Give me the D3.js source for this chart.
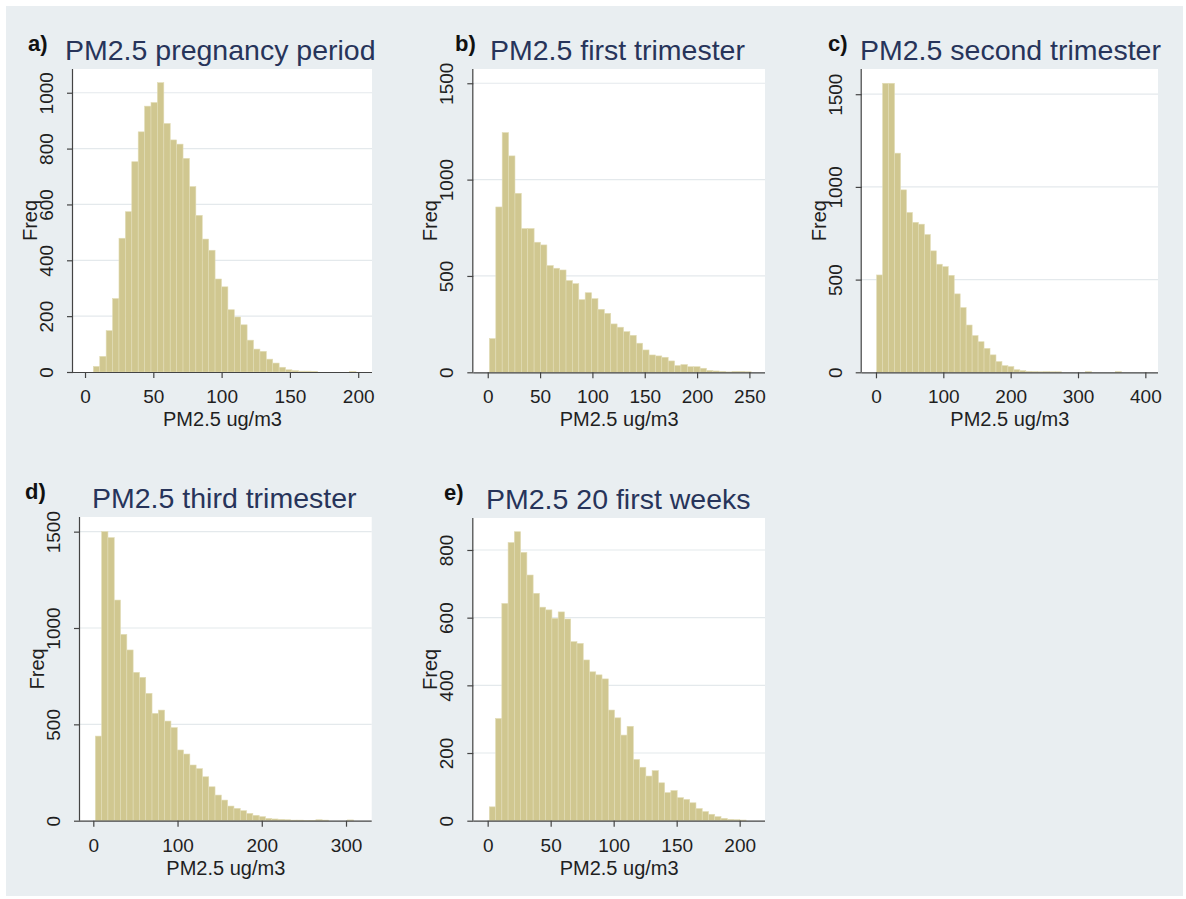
<!DOCTYPE html>
<html>
<head>
<meta charset="utf-8">
<script src="https://cdn.jsdelivr.net/npm/d3@7"></script>
<style>
  html, body { margin: 0; padding: 0; background: #ffffff; }
  svg { display: block; font-family: "Liberation Sans", Arial, Helvetica, sans-serif; }
</style>
</head>
<body>
<svg id="chart" width="1186" height="899"></svg>
<script>
// ---- Histogram data: PM2.5 exposure (ug/m3), 41 equal-width bins per window ----
const panelLetters = ["a)", "b)", "c)", "d)", "e)"];
const panelTitles = [
  "PM2.5 pregnancy period",
  "PM2.5 first trimester",
  "PM2.5 second trimester",
  "PM2.5 third trimester",
  "PM2.5 20 first weeks"
];
const xAxisTitle = "PM2.5 ug/m3";
const yAxisTitle = "Freq";

// first bin edge and bin width for each window
const binStarts = [6.1, 1.6, 1.0, 2.4, 1.3];
const binWidths = [4.69, 6.1, 8.86, 7.48, 4.97];

const countsPregnancy = [20, 56, 148, 263, 479, 574, 753, 860, 952, 965,
  1036, 890, 831, 816, 765, 664, 561, 476, 436, 333,
  305, 223, 197, 169, 114, 82, 74, 46, 32, 17,
  8, 5, 3, 3, 2, 0, 0, 0, 0, 0, 2];
const countsFirstTrim = [175, 858, 1244, 1123, 929, 746, 746, 675, 661, 554,
  540, 531, 476, 460, 377, 413, 382, 327, 306, 251,
  234, 211, 192, 151, 116, 90, 85, 78, 59, 35,
  40, 29, 29, 21, 10, 7, 5, 2, 5, 5, 3];
const countsSecondTrim = [525, 1559, 1559, 1182, 984, 862, 809, 799, 743, 655,
  583, 570, 523, 423, 349, 255, 198, 165, 129, 94,
  58, 36, 31, 14, 9, 5, 4, 3, 4, 3,
  3, 0, 0, 0, 0, 4, 0, 0, 0, 0, 4];
const countsThirdTrim = [439, 1500, 1469, 1145, 967, 886, 770, 744, 661, 557,
  574, 517, 483, 367, 346, 289, 270, 228, 176, 133,
  107, 76, 64, 52, 38, 28, 21, 12, 9, 7,
  5, 3, 3, 2, 2, 5, 3, 0, 0, 0, 4];
const counts20Weeks = [41, 302, 642, 822, 854, 793, 726, 672, 631, 623,
  598, 617, 596, 529, 524, 475, 440, 431, 419, 327,
  304, 253, 279, 181, 158, 132, 148, 112, 83, 89,
  68, 63, 53, 36, 27, 19, 12, 7, 4, 3, 2];
const panelCounts = [countsPregnancy, countsFirstTrim, countsSecondTrim, countsThirdTrim, counts20Weeks];

// axis tick labels
const xTicks = [
  [0, 50, 100, 150, 200],
  [0, 50, 100, 150, 200, 250],
  [0, 100, 200, 300, 400],
  [0, 100, 200, 300],
  [0, 50, 100, 150, 200]
];
const yTicks = [
  [0, 200, 400, 600, 800, 1000],
  [0, 500, 1000, 1500],
  [0, 500, 1000, 1500],
  [0, 500, 1000, 1500],
  [0, 200, 400, 600, 800]
];

// ---- Layout of each plot region ----
const layout = [
  { left: 73,    right: 372,  top: 69,  bottom: 372,   xDom: [-8.8, 210.1],  yMax: 1085,  letterX: 28,  titleX: 65 },
  { left: 473.3, right: 765,  top: 69,  bottom: 372.3, xDom: [-13.8, 264.9], yMax: 1574,  letterX: 455, titleX: 490 },
  { left: 861.7, right: 1158, top: 69,  bottom: 372.3, xDom: [-21.2, 418.8], yMax: 1636,  letterX: 828, titleX: 860 },
  { left: 80,    right: 371.7,top: 517, bottom: 820.7, xDom: [-15.8, 330.5], yMax: 1576,  letterX: 25,  titleX: 92 },
  { left: 473.3, right: 765,  top: 518, bottom: 820.7, xDom: [-11.4, 220.1], yMax: 894.5, letterX: 444, titleX: 486 }
];

const style = {
  bg: "#e9eef1",
  plotBg: "#ffffff",
  grid: "#e4e9ec",
  barFill: "#d0c790",
  barStroke: "#e2dcb6",
  axis: "#444444",
  text: "#1f1f1f",
  title: "#27345a"
};

const svg = d3.select("#chart");

// outer graph background
svg.append("rect")
  .attr("x", 6).attr("y", 6)
  .attr("width", 1177).attr("height", 890)
  .attr("fill", style.bg);

layout.forEach((L, p) => {
  const counts = panelCounts[p];
  const x = d3.scaleLinear().domain(L.xDom).range([L.left, L.right]);
  const y = d3.scaleLinear().domain([0, L.yMax]).range([L.bottom, L.top]);

  const g = svg.append("g");

  // plot region
  g.append("rect")
    .attr("x", L.left).attr("y", L.top)
    .attr("width", L.right - L.left).attr("height", L.bottom - L.top)
    .attr("fill", style.plotBg);

  // horizontal grid lines
  g.selectAll("line.grid")
    .data(yTicks[p].filter(v => v > 0))
    .join("line")
    .attr("class", "grid")
    .attr("x1", L.left).attr("x2", L.right)
    .attr("y1", d => y(d)).attr("y2", d => y(d))
    .attr("stroke", style.grid).attr("stroke-width", 1.2);

  // histogram bars
  const bins = counts.map((c, i) => ({
    x0: binStarts[p] + i * binWidths[p],
    x1: binStarts[p] + (i + 1) * binWidths[p],
    n: c
  })).filter(b => b.n > 0);

  g.selectAll("rect.bar")
    .data(bins)
    .join("rect")
    .attr("class", "bar")
    .attr("x", d => x(d.x0))
    .attr("width", d => x(d.x1) - x(d.x0))
    .attr("y", d => y(d.n))
    .attr("height", d => y(0) - y(d.n))
    .attr("fill", style.barFill)
    .attr("stroke", style.barStroke)
    .attr("stroke-width", 0.6);

  // x axis
  const xAxis = g.append("g")
    .attr("transform", `translate(0,${L.bottom})`)
    .call(d3.axisBottom(x).tickValues(xTicks[p]).tickSize(6).tickSizeOuter(0).tickFormat(d3.format("d")));
  xAxis.select(".domain").attr("stroke", style.axis).attr("stroke-width", 1.2)
    .attr("d", `M${L.left},0.5H${L.right}`);
  xAxis.selectAll(".tick line").attr("stroke", style.axis).attr("stroke-width", 1.2);
  xAxis.selectAll(".tick text")
    .attr("y", 31).attr("dy", null)
    .attr("font-size", 19).attr("fill", style.text);

  // y axis with vertical tick labels
  const yAxis = g.append("g")
    .attr("transform", `translate(${L.left},0)`)
    .call(d3.axisLeft(y).tickValues(yTicks[p]).tickSize(6).tickSizeOuter(0).tickFormat(d3.format("d")));
  yAxis.select(".domain").attr("stroke", style.axis).attr("stroke-width", 1.2)
    .attr("d", `M-0.5,${L.bottom}V${L.top}`);
  yAxis.selectAll(".tick line").attr("stroke", style.axis).attr("stroke-width", 1.2);
  yAxis.selectAll(".tick text")
    .attr("transform", "rotate(-90)")
    .attr("x", 0).attr("y", -20).attr("dy", null)
    .attr("text-anchor", "middle")
    .attr("font-size", 19).attr("fill", style.text);

  // axis titles
  g.append("text")
    .attr("x", (L.left + L.right) / 2)
    .attr("y", L.bottom + 54)
    .attr("text-anchor", "middle")
    .attr("font-size", 20).attr("fill", style.text)
    .text(xAxisTitle);

  g.append("text")
    .attr("transform", `translate(${L.left - 36},${(L.top + L.bottom) / 2}) rotate(-90)`)
    .attr("text-anchor", "middle")
    .attr("font-size", 20).attr("fill", style.text)
    .text(yAxisTitle);

  // panel letter and title
  g.append("text")
    .attr("x", L.letterX).attr("y", L.top - 18)
    .attr("font-size", 22).attr("font-weight", "bold").attr("fill", "#111")
    .text(panelLetters[p]);

  g.append("text")
    .attr("x", L.titleX).attr("y", L.top - 9)
    .attr("font-size", 28.5).attr("fill", style.title)
    .text(panelTitles[p]);
});
</script>
</body>
</html>
